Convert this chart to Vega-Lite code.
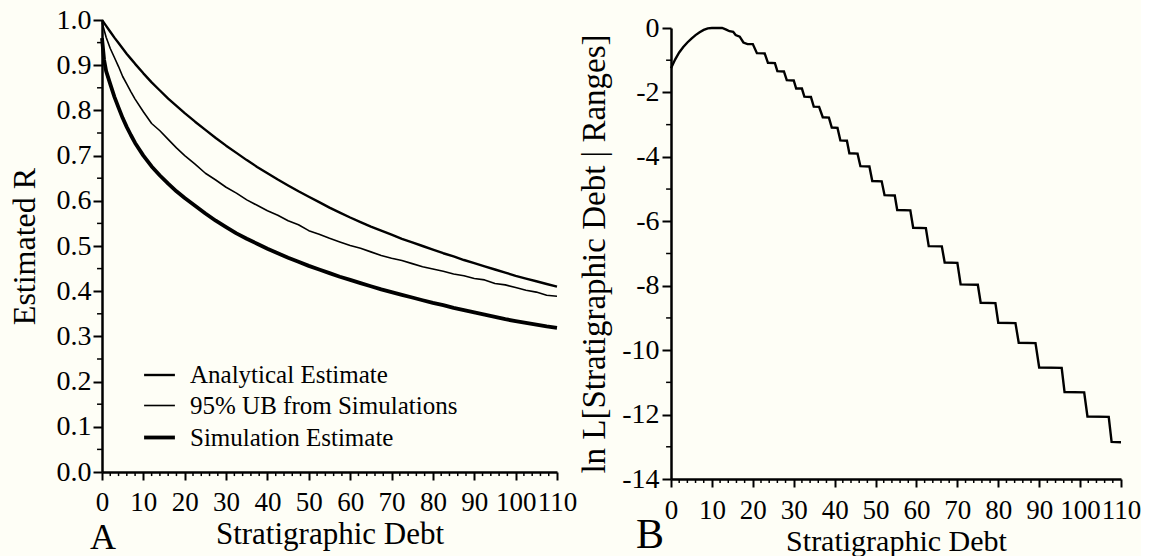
{
  "$schema": "https://vega.github.io/schema/vega-lite/v6.json",
  "background": "#FEFEF6",
  "padding": {"left": 8, "top": 5, "right": 0, "bottom": 0},
  "spacing": 1,
  "config": {
    "font": "Liberation Serif",
    "view": {"stroke": null},
    "concat": {"spacing": 0},
    "axis": {
      "domainColor": "black", "domainWidth": 2.5, "tickColor": "black", "tickWidth": 2,
      "labelColor": "black", "titleColor": "black", "labelFont": "Liberation Serif", "titleFont": "Liberation Serif",
      "titleFontWeight": "normal", "grid": false, "labelOverlap": false, "labelFlush": false
    },
    "title": {"font": "Liberation Serif", "fontWeight": "normal", "color": "black"}
  },
  "hconcat": [
    {
      "spacing": 0,
      "vconcat": [
        {
          "width": 455, "height": 1,
          "data": {"values": [{"s": 0}]},
          "mark": {"type": "point", "opacity": 0, "size": 1},
          "encoding": {}
        },
        {
          "width": 455, "height": 452,
          "title": {"text": "A", "orient": "bottom", "anchor": "start", "frame": "group", "fontSize": 36, "dx": -12, "offset": -28},
          "layer": [
            {
              "data": {"values": [
                {"debt": 0, "R": 1.000, "series": "Analytical Estimate"},
                {"debt": 1, "R": 0.987, "series": "Analytical Estimate"},
                {"debt": 2, "R": 0.974, "series": "Analytical Estimate"},
                {"debt": 3, "R": 0.961, "series": "Analytical Estimate"},
                {"debt": 4, "R": 0.949, "series": "Analytical Estimate"},
                {"debt": 5, "R": 0.937, "series": "Analytical Estimate"},
                {"debt": 6, "R": 0.925, "series": "Analytical Estimate"},
                {"debt": 7, "R": 0.914, "series": "Analytical Estimate"},
                {"debt": 8, "R": 0.903, "series": "Analytical Estimate"},
                {"debt": 10, "R": 0.882, "series": "Analytical Estimate"},
                {"debt": 12, "R": 0.862, "series": "Analytical Estimate"},
                {"debt": 14, "R": 0.844, "series": "Analytical Estimate"},
                {"debt": 16, "R": 0.826, "series": "Analytical Estimate"},
                {"debt": 18, "R": 0.810, "series": "Analytical Estimate"},
                {"debt": 20, "R": 0.794, "series": "Analytical Estimate"},
                {"debt": 22.5, "R": 0.775, "series": "Analytical Estimate"},
                {"debt": 25, "R": 0.757, "series": "Analytical Estimate"},
                {"debt": 27.5, "R": 0.739, "series": "Analytical Estimate"},
                {"debt": 30, "R": 0.722, "series": "Analytical Estimate"},
                {"debt": 32.5, "R": 0.706, "series": "Analytical Estimate"},
                {"debt": 35, "R": 0.690, "series": "Analytical Estimate"},
                {"debt": 37.5, "R": 0.675, "series": "Analytical Estimate"},
                {"debt": 40, "R": 0.661, "series": "Analytical Estimate"},
                {"debt": 42.5, "R": 0.647, "series": "Analytical Estimate"},
                {"debt": 45, "R": 0.634, "series": "Analytical Estimate"},
                {"debt": 47.5, "R": 0.621, "series": "Analytical Estimate"},
                {"debt": 50, "R": 0.609, "series": "Analytical Estimate"},
                {"debt": 52.5, "R": 0.597, "series": "Analytical Estimate"},
                {"debt": 55, "R": 0.585, "series": "Analytical Estimate"},
                {"debt": 57.5, "R": 0.574, "series": "Analytical Estimate"},
                {"debt": 60, "R": 0.563, "series": "Analytical Estimate"},
                {"debt": 62.5, "R": 0.553, "series": "Analytical Estimate"},
                {"debt": 65, "R": 0.543, "series": "Analytical Estimate"},
                {"debt": 67.5, "R": 0.534, "series": "Analytical Estimate"},
                {"debt": 70, "R": 0.525, "series": "Analytical Estimate"},
                {"debt": 72.5, "R": 0.516, "series": "Analytical Estimate"},
                {"debt": 75, "R": 0.508, "series": "Analytical Estimate"},
                {"debt": 77.5, "R": 0.500, "series": "Analytical Estimate"},
                {"debt": 80, "R": 0.492, "series": "Analytical Estimate"},
                {"debt": 82.5, "R": 0.484, "series": "Analytical Estimate"},
                {"debt": 85, "R": 0.477, "series": "Analytical Estimate"},
                {"debt": 87.5, "R": 0.469, "series": "Analytical Estimate"},
                {"debt": 90, "R": 0.462, "series": "Analytical Estimate"},
                {"debt": 92.5, "R": 0.455, "series": "Analytical Estimate"},
                {"debt": 95, "R": 0.448, "series": "Analytical Estimate"},
                {"debt": 97.5, "R": 0.441, "series": "Analytical Estimate"},
                {"debt": 100, "R": 0.434, "series": "Analytical Estimate"},
                {"debt": 102.5, "R": 0.428, "series": "Analytical Estimate"},
                {"debt": 105, "R": 0.422, "series": "Analytical Estimate"},
                {"debt": 107.5, "R": 0.416, "series": "Analytical Estimate"},
                {"debt": 110, "R": 0.410, "series": "Analytical Estimate"},

                {"debt": 0, "R": 0.995, "series": "95% UB from Simulations"},
                {"debt": 1, "R": 0.962, "series": "95% UB from Simulations"},
                {"debt": 2, "R": 0.937, "series": "95% UB from Simulations"},
                {"debt": 3, "R": 0.917, "series": "95% UB from Simulations"},
                {"debt": 4, "R": 0.897, "series": "95% UB from Simulations"},
                {"debt": 5, "R": 0.875, "series": "95% UB from Simulations"},
                {"debt": 6, "R": 0.858, "series": "95% UB from Simulations"},
                {"debt": 7, "R": 0.841, "series": "95% UB from Simulations"},
                {"debt": 8, "R": 0.825, "series": "95% UB from Simulations"},
                {"debt": 10, "R": 0.797, "series": "95% UB from Simulations"},
                {"debt": 12, "R": 0.771, "series": "95% UB from Simulations"},
                {"debt": 14, "R": 0.755, "series": "95% UB from Simulations"},
                {"debt": 16, "R": 0.736, "series": "95% UB from Simulations"},
                {"debt": 18, "R": 0.717, "series": "95% UB from Simulations"},
                {"debt": 20, "R": 0.700, "series": "95% UB from Simulations"},
                {"debt": 22.5, "R": 0.681, "series": "95% UB from Simulations"},
                {"debt": 25, "R": 0.661, "series": "95% UB from Simulations"},
                {"debt": 27.5, "R": 0.646, "series": "95% UB from Simulations"},
                {"debt": 30, "R": 0.630, "series": "95% UB from Simulations"},
                {"debt": 32.5, "R": 0.617, "series": "95% UB from Simulations"},
                {"debt": 35, "R": 0.602, "series": "95% UB from Simulations"},
                {"debt": 37.5, "R": 0.590, "series": "95% UB from Simulations"},
                {"debt": 40, "R": 0.578, "series": "95% UB from Simulations"},
                {"debt": 42.5, "R": 0.568, "series": "95% UB from Simulations"},
                {"debt": 45, "R": 0.556, "series": "95% UB from Simulations"},
                {"debt": 47.5, "R": 0.547, "series": "95% UB from Simulations"},
                {"debt": 50, "R": 0.534, "series": "95% UB from Simulations"},
                {"debt": 52.5, "R": 0.526, "series": "95% UB from Simulations"},
                {"debt": 55, "R": 0.517, "series": "95% UB from Simulations"},
                {"debt": 57.5, "R": 0.509, "series": "95% UB from Simulations"},
                {"debt": 60, "R": 0.501, "series": "95% UB from Simulations"},
                {"debt": 62.5, "R": 0.495, "series": "95% UB from Simulations"},
                {"debt": 65, "R": 0.487, "series": "95% UB from Simulations"},
                {"debt": 67.5, "R": 0.479, "series": "95% UB from Simulations"},
                {"debt": 70, "R": 0.473, "series": "95% UB from Simulations"},
                {"debt": 72.5, "R": 0.468, "series": "95% UB from Simulations"},
                {"debt": 75, "R": 0.461, "series": "95% UB from Simulations"},
                {"debt": 77.5, "R": 0.454, "series": "95% UB from Simulations"},
                {"debt": 80, "R": 0.449, "series": "95% UB from Simulations"},
                {"debt": 82.5, "R": 0.444, "series": "95% UB from Simulations"},
                {"debt": 85, "R": 0.438, "series": "95% UB from Simulations"},
                {"debt": 87.5, "R": 0.434, "series": "95% UB from Simulations"},
                {"debt": 90, "R": 0.428, "series": "95% UB from Simulations"},
                {"debt": 92.5, "R": 0.425, "series": "95% UB from Simulations"},
                {"debt": 95, "R": 0.417, "series": "95% UB from Simulations"},
                {"debt": 97.5, "R": 0.414, "series": "95% UB from Simulations"},
                {"debt": 100, "R": 0.408, "series": "95% UB from Simulations"},
                {"debt": 102.5, "R": 0.402, "series": "95% UB from Simulations"},
                {"debt": 105, "R": 0.398, "series": "95% UB from Simulations"},
                {"debt": 107.5, "R": 0.391, "series": "95% UB from Simulations"},
                {"debt": 110, "R": 0.389, "series": "95% UB from Simulations"},

                {"debt": 0, "R": 0.960, "series": "Simulation Estimate"},
                {"debt": 0.5, "R": 0.912, "series": "Simulation Estimate"},
                {"debt": 1, "R": 0.887, "series": "Simulation Estimate"},
                {"debt": 2, "R": 0.858, "series": "Simulation Estimate"},
                {"debt": 3, "R": 0.830, "series": "Simulation Estimate"},
                {"debt": 4, "R": 0.806, "series": "Simulation Estimate"},
                {"debt": 5, "R": 0.783, "series": "Simulation Estimate"},
                {"debt": 6, "R": 0.763, "series": "Simulation Estimate"},
                {"debt": 7, "R": 0.745, "series": "Simulation Estimate"},
                {"debt": 8, "R": 0.728, "series": "Simulation Estimate"},
                {"debt": 10, "R": 0.700, "series": "Simulation Estimate"},
                {"debt": 12, "R": 0.676, "series": "Simulation Estimate"},
                {"debt": 14, "R": 0.656, "series": "Simulation Estimate"},
                {"debt": 16, "R": 0.638, "series": "Simulation Estimate"},
                {"debt": 18, "R": 0.621, "series": "Simulation Estimate"},
                {"debt": 20, "R": 0.606, "series": "Simulation Estimate"},
                {"debt": 22.5, "R": 0.589, "series": "Simulation Estimate"},
                {"debt": 25, "R": 0.572, "series": "Simulation Estimate"},
                {"debt": 27.5, "R": 0.556, "series": "Simulation Estimate"},
                {"debt": 30, "R": 0.542, "series": "Simulation Estimate"},
                {"debt": 32.5, "R": 0.528, "series": "Simulation Estimate"},
                {"debt": 35, "R": 0.516, "series": "Simulation Estimate"},
                {"debt": 37.5, "R": 0.505, "series": "Simulation Estimate"},
                {"debt": 40, "R": 0.494, "series": "Simulation Estimate"},
                {"debt": 42.5, "R": 0.484, "series": "Simulation Estimate"},
                {"debt": 45, "R": 0.474, "series": "Simulation Estimate"},
                {"debt": 47.5, "R": 0.465, "series": "Simulation Estimate"},
                {"debt": 50, "R": 0.456, "series": "Simulation Estimate"},
                {"debt": 52.5, "R": 0.448, "series": "Simulation Estimate"},
                {"debt": 55, "R": 0.440, "series": "Simulation Estimate"},
                {"debt": 57.5, "R": 0.432, "series": "Simulation Estimate"},
                {"debt": 60, "R": 0.425, "series": "Simulation Estimate"},
                {"debt": 62.5, "R": 0.418, "series": "Simulation Estimate"},
                {"debt": 65, "R": 0.411, "series": "Simulation Estimate"},
                {"debt": 67.5, "R": 0.404, "series": "Simulation Estimate"},
                {"debt": 70, "R": 0.398, "series": "Simulation Estimate"},
                {"debt": 72.5, "R": 0.392, "series": "Simulation Estimate"},
                {"debt": 75, "R": 0.386, "series": "Simulation Estimate"},
                {"debt": 77.5, "R": 0.380, "series": "Simulation Estimate"},
                {"debt": 80, "R": 0.374, "series": "Simulation Estimate"},
                {"debt": 82.5, "R": 0.369, "series": "Simulation Estimate"},
                {"debt": 85, "R": 0.363, "series": "Simulation Estimate"},
                {"debt": 87.5, "R": 0.358, "series": "Simulation Estimate"},
                {"debt": 90, "R": 0.353, "series": "Simulation Estimate"},
                {"debt": 92.5, "R": 0.348, "series": "Simulation Estimate"},
                {"debt": 95, "R": 0.343, "series": "Simulation Estimate"},
                {"debt": 97.5, "R": 0.338, "series": "Simulation Estimate"},
                {"debt": 100, "R": 0.334, "series": "Simulation Estimate"},
                {"debt": 102.5, "R": 0.330, "series": "Simulation Estimate"},
                {"debt": 105, "R": 0.326, "series": "Simulation Estimate"},
                {"debt": 107.5, "R": 0.322, "series": "Simulation Estimate"},
                {"debt": 110, "R": 0.319, "series": "Simulation Estimate"}
              ]},
              "mark": {"type": "line", "color": "black", "strokeJoin": "round", "strokeCap": "butt"},
              "encoding": {
                "x": {"field": "debt", "type": "quantitative",
                      "scale": {"domain": [0, 110], "nice": false, "zero": false},
                      "axis": {"values": [0,10,20,30,40,50,60,70,80,90,100,110], "title": "Stratigraphic Debt",
                               "tickSize": 8, "labelFontSize": 27, "labelPadding": 9, "titleFontSize": 31, "titlePadding": 4}},
                "y": {"field": "R", "type": "quantitative",
                      "scale": {"domain": [0, 1], "nice": false},
                      "axis": {"values": [0,0.1,0.2,0.3,0.4,0.5,0.6,0.7,0.8,0.9,1.0], "format": ".1f", "title": "Estimated R",
                               "tickSize": 9, "labelFontSize": 28, "labelPadding": 2, "titleFontSize": 32, "titlePadding": 15}},
                "detail": {"field": "series"},
                "strokeWidth": {"field": "series", "type": "nominal",
                                "scale": {"type": "ordinal", "domain": ["Analytical Estimate", "95% UB from Simulations", "Simulation Estimate"], "range": [2.4, 1.6, 3.8]},
                                "legend": {"orient": "none", "legendX": 40, "legendY": 353, "title": null, "symbolType": "stroke",
                                           "symbolSize": 950, "symbolStrokeColor": "black", "labelFontSize": 25, "labelFont": "Liberation Serif",
                                           "labelColor": "black", "rowPadding": 1, "labelOffset": 13, "labelLimit": 400}}
              }
            },
            {
              "data": {"values": [
                {"m": 2},{"m": 4},{"m": 6},{"m": 8},{"m": 12},{"m": 14},{"m": 16},{"m": 18},{"m": 22},{"m": 24},{"m": 26},{"m": 28},
                {"m": 32},{"m": 34},{"m": 36},{"m": 38},{"m": 42},{"m": 44},{"m": 46},{"m": 48},{"m": 52},{"m": 54},{"m": 56},{"m": 58},
                {"m": 62},{"m": 64},{"m": 66},{"m": 68},{"m": 72},{"m": 74},{"m": 76},{"m": 78},{"m": 82},{"m": 84},{"m": 86},{"m": 88},
                {"m": 92},{"m": 94},{"m": 96},{"m": 98},{"m": 102},{"m": 104},{"m": 106},{"m": 108}
              ]},
              "mark": {"type": "rule", "color": "black", "strokeWidth": 1.5},
              "encoding": {"x": {"field": "m", "type": "quantitative"}, "y": {"datum": 0}, "y2": {"datum": -0.009}}
            },
            {
              "data": {"values": [
                {"mv": 0.05},{"mv": 0.15},{"mv": 0.25},{"mv": 0.35},{"mv": 0.45},{"mv": 0.55},{"mv": 0.65},{"mv": 0.75},{"mv": 0.85},{"mv": 0.95}
              ]},
              "mark": {"type": "rule", "color": "black", "strokeWidth": 1.5},
              "encoding": {"y": {"field": "mv", "type": "quantitative"}, "x": {"datum": 0}, "x2": {"datum": -1.2}}
            }
          ]
        }
      ]
    },
    {
      "spacing": 0,
      "vconcat": [
        {
          "width": 450, "height": 9,
          "data": {"values": [{"s": 0}]},
          "mark": {"type": "point", "opacity": 0, "size": 1},
          "encoding": {}
        },
        {
          "width": 450, "height": 451,
          "title": {"text": "B", "orient": "bottom", "anchor": "start", "frame": "group", "fontSize": 42, "dx": -35, "offset": -41},
          "layer": [
            {
              "data": {"values": [
                {"debt": 0, "lnL": -1.25}, {"debt": 1, "lnL": -0.98}, {"debt": 2, "lnL": -0.76}, {"debt": 3, "lnL": -0.59},
                {"debt": 4, "lnL": -0.45}, {"debt": 5, "lnL": -0.33}, {"debt": 6, "lnL": -0.22}, {"debt": 7, "lnL": -0.13},
                {"debt": 8, "lnL": -0.06}, {"debt": 9, "lnL": -0.01}, {"debt": 10, "lnL": 0}, {"debt": 12.5, "lnL": 0},
                {"debt": 13.5, "lnL": -0.05}, {"debt": 14.3, "lnL": -0.1}, {"debt": 15.2, "lnL": -0.12}, {"debt": 15.8, "lnL": -0.22},
                {"debt": 16.8, "lnL": -0.27}, {"debt": 17.7, "lnL": -0.45}, {"debt": 18.7, "lnL": -0.5}, {"debt": 20.0, "lnL": -0.5},
                {"debt": 21.0, "lnL": -0.78}, {"debt": 22.9, "lnL": -0.79}, {"debt": 23.7, "lnL": -1.08}, {"debt": 25.4, "lnL": -1.09},
                {"debt": 26.0, "lnL": -1.34}, {"debt": 27.6, "lnL": -1.35}, {"debt": 28.3, "lnL": -1.62}, {"debt": 30.0, "lnL": -1.63},
                {"debt": 30.6, "lnL": -1.88}, {"debt": 32.0, "lnL": -1.88}, {"debt": 32.6, "lnL": -2.13}, {"debt": 34.2, "lnL": -2.14},
                {"debt": 34.9, "lnL": -2.44}, {"debt": 36.2, "lnL": -2.45}, {"debt": 37.1, "lnL": -2.77}, {"debt": 38.6, "lnL": -2.78},
                {"debt": 39.3, "lnL": -3.09}, {"debt": 40.7, "lnL": -3.10}, {"debt": 41.4, "lnL": -3.49}, {"debt": 43.0, "lnL": -3.50},
                {"debt": 43.6, "lnL": -3.89}, {"debt": 45.6, "lnL": -3.90}, {"debt": 46.3, "lnL": -4.29}, {"debt": 48.5, "lnL": -4.30},
                {"debt": 49.2, "lnL": -4.75}, {"debt": 51.5, "lnL": -4.76}, {"debt": 52.2, "lnL": -5.19}, {"debt": 54.7, "lnL": -5.20},
                {"debt": 55.3, "lnL": -5.65}, {"debt": 58.5, "lnL": -5.66}, {"debt": 59.2, "lnL": -6.20}, {"debt": 62.3, "lnL": -6.21},
                {"debt": 63.0, "lnL": -6.77}, {"debt": 66.2, "lnL": -6.78}, {"debt": 66.9, "lnL": -7.28}, {"debt": 70.0, "lnL": -7.29},
                {"debt": 70.8, "lnL": -7.96}, {"debt": 75.0, "lnL": -7.97}, {"debt": 75.7, "lnL": -8.53}, {"debt": 79.3, "lnL": -8.54},
                {"debt": 80.0, "lnL": -9.15}, {"debt": 84.2, "lnL": -9.16}, {"debt": 85.0, "lnL": -9.77}, {"debt": 89.1, "lnL": -9.78},
                {"debt": 90.0, "lnL": -10.54}, {"debt": 95.5, "lnL": -10.55}, {"debt": 96.2, "lnL": -11.30}, {"debt": 101.0, "lnL": -11.31},
                {"debt": 101.8, "lnL": -12.06}, {"debt": 107.0, "lnL": -12.07}, {"debt": 107.7, "lnL": -12.85}, {"debt": 110, "lnL": -12.86}
              ]},
              "mark": {"type": "line", "color": "black", "strokeWidth": 2.4, "strokeJoin": "miter"},
              "encoding": {
                "x": {"field": "debt", "type": "quantitative",
                      "scale": {"domain": [0, 110], "nice": false, "zero": false},
                      "axis": {"values": [0,10,20,30,40,50,60,70,80,90,100,110], "title": "Stratigraphic Debt",
                               "tickSize": 8, "labelFontSize": 27, "labelPadding": 10, "titleFontSize": 30, "titlePadding": 3}},
                "y": {"field": "lnL", "type": "quantitative",
                      "scale": {"domain": [-14, 0], "nice": false, "zero": false},
                      "axis": {"values": [-14,-12,-10,-8,-6,-4,-2,0], "title": "ln L[Stratigraphic Debt | Ranges]",
                               "labelExpr": "replace(datum.label, '−', '-')",
                               "tickSize": 9, "labelFontSize": 28, "labelPadding": 3, "titleFontSize": 33, "titlePadding": 10}}
              }
            },
            {
              "data": {"values": [
                {"m": 2},{"m": 4},{"m": 6},{"m": 8},{"m": 12},{"m": 14},{"m": 16},{"m": 18},{"m": 22},{"m": 24},{"m": 26},{"m": 28},
                {"m": 32},{"m": 34},{"m": 36},{"m": 38},{"m": 42},{"m": 44},{"m": 46},{"m": 48},{"m": 52},{"m": 54},{"m": 56},{"m": 58},
                {"m": 62},{"m": 64},{"m": 66},{"m": 68},{"m": 72},{"m": 74},{"m": 76},{"m": 78},{"m": 82},{"m": 84},{"m": 86},{"m": 88},
                {"m": 92},{"m": 94},{"m": 96},{"m": 98},{"m": 102},{"m": 104},{"m": 106},{"m": 108}
              ]},
              "mark": {"type": "rule", "color": "black", "strokeWidth": 1.5},
              "encoding": {"x": {"field": "m", "type": "quantitative"}, "y": {"datum": -14}, "y2": {"datum": -14.125}}
            },
            {
              "data": {"values": [
                {"mv": -13},{"mv": -11},{"mv": -9},{"mv": -7},{"mv": -5},{"mv": -3},{"mv": -1}
              ]},
              "mark": {"type": "rule", "color": "black", "strokeWidth": 1.5},
              "encoding": {"y": {"field": "mv", "type": "quantitative"}, "x": {"datum": 0}, "x2": {"datum": -1.2}}
            }
          ]
        }
      ]
    }
  ]
}
